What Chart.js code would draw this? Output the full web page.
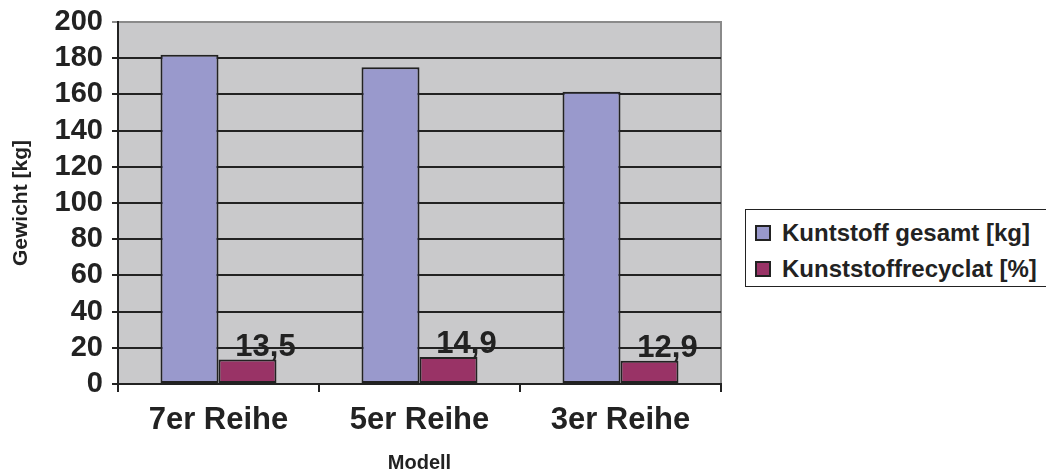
<!DOCTYPE html>
<html>
<head>
<meta charset="utf-8">
<script src="https://cdn.jsdelivr.net/npm/chart.js@4/dist/chart.umd.min.js"></script>
<style>
  html, body { margin: 0; padding: 0; background: #fff; }
  #wrap { position: relative; width: 1046px; height: 475px; }
  #legend {
    position: absolute; left: 745px; top: 209px; width: 302px; height: 78px;
    border: 1px solid #222; box-sizing: border-box; background: #fff;
    font: bold 24px "Liberation Sans", Arial, sans-serif; color: #222;
  }
  .item { position: absolute; left: 9px; display: flex; align-items: center; white-space: nowrap; line-height: 28px; }
  .sw { width: 12px; height: 12px; border: 2px solid #222; margin-right: 11px; }
</style>
</head>
<body>
<div id="wrap">
  <canvas id="c" width="1046" height="475"></canvas>
  <div id="legend"></div>
</div>
<script>
/* ── DATA ─────────────────────────────────────────────── */
const categories = ['7er Reihe', '5er Reihe', '3er Reihe'];
const seriesNames = ['Kuntstoff gesamt [kg]', 'Kunststoffrecyclat [%]'];
const gesamt = [182, 175, 161.5];
const recyclat = [13.5, 14.9, 12.9];
const yTicks = [0, 20, 40, 60, 80, 100, 120, 140, 160, 180, 200];

const colors = ['#9999CC', '#993366'];
const FONT = '"Liberation Sans", Arial, sans-serif';

/* ── PLOT BACKGROUND ──────────────────────────────────── */
const plotBg = {
  id: 'plotBg',
  beforeDraw(chart) {
    const { ctx, chartArea: a } = chart;
    ctx.save();
    ctx.fillStyle = '#C9C9CB';
    ctx.fillRect(a.left, a.top, a.right - a.left, a.bottom - a.top);
    ctx.strokeStyle = '#8a8a8a';
    ctx.lineWidth = 2;
    ctx.beginPath();
    ctx.moveTo(a.left, a.top);
    ctx.lineTo(a.right, a.top);
    ctx.lineTo(a.right, a.bottom);
    ctx.stroke();
    ctx.restore();
  }
};

/* ── VALUE LABELS on recyclat bars ────────────────────── */
const valueLabels = {
  id: 'valueLabels',
  afterDatasetsDraw(chart) {
    const { ctx } = chart;
    const meta = chart.getDatasetMeta(1);
    ctx.save();
    ctx.font = 'bold 31px ' + FONT;
    ctx.fillStyle = '#222';
    ctx.textAlign = 'center';
    ctx.textBaseline = 'alphabetic';
    meta.data.forEach((bar, i) => {
      const txt = recyclat[i].toFixed(1).replace('.', ',');
      ctx.fillText(txt, bar.x + 18, bar.y - 4);
    });
    ctx.restore();
  }
};

new Chart(document.getElementById('c'), {
  type: 'bar',
  data: {
    labels: categories,
    datasets: [
      { label: seriesNames[0], data: gesamt, backgroundColor: colors[0], borderColor: '#222', borderWidth: 2, borderSkipped: false },
      { label: seriesNames[1], data: recyclat, backgroundColor: colors[1], borderColor: '#222', borderWidth: 2, borderSkipped: false },
    ],
  },
  options: {
    responsive: false,
    animation: false,
    layout: { padding: { top: 21, right: 325, left: 0, bottom: 0 } },
    datasets: { bar: { categoryPercentage: 0.577, barPercentage: 1 } },
    plugins: { legend: { display: false }, tooltip: { enabled: false } },
    scales: {
      x: {
        afterFit: s => { s.height = 91; },
        grid: { display: true, drawOnChartArea: false, color: '#222', lineWidth: 2, tickLength: 8, offset: true },
        border: { color: '#222', width: 2 },
        ticks: { color: '#222', font: { family: FONT, size: 31, weight: 'bold' }, padding: 10 },
        title: { display: true, text: 'Modell', color: '#222', font: { family: FONT, size: 20, weight: 'bold' }, padding: { top: 0, bottom: 0 } },
      },
      y: {
        min: 0, max: 200,
        afterFit: s => { s.width = 118; },
        afterBuildTicks: s => { s.ticks = yTicks.map(v => ({ value: v })); },
        grid: {
          color: c => (c.tick && c.tick.value === 200 ? '#8a8a8a' : '#222'),
          lineWidth: 2, tickLength: 6,
        },
        border: { color: '#222', width: 2 },
        ticks: { autoSkip: false, color: '#222', font: { family: FONT, size: 29, weight: 'bold', lineHeight: 0.9 }, padding: 9 },
        title: { display: true, text: 'Gewicht [kg]', color: '#222', font: { family: FONT, size: 21, weight: 'bold' }, padding: { top: 9, bottom: 0 } },
      },
    },
  },
  plugins: [plotBg, valueLabels],
});

/* ── LEGEND ───────────────────────────────────────────── */
const legend = document.getElementById('legend');
seriesNames.forEach((name, i) => {
  const row = document.createElement('div');
  row.className = 'item';
  row.style.top = (i === 0 ? 9 : 45) + 'px';
  row.innerHTML = '<span class="sw" style="background:' + colors[i] + '"></span><span></span>';
  row.lastChild.textContent = name;
  legend.appendChild(row);
});
</script>
</body>
</html>
